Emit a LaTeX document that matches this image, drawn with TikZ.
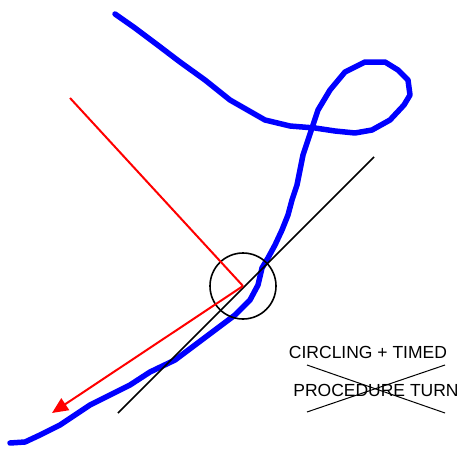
\documentclass[tikz,border=0pt]{standalone}
\usepackage{fontspec}
\setmainfont{Liberation Sans}
\usetikzlibrary{arrows.meta}
\begin{document}
\begin{tikzpicture}[x=1pt,y=-1pt,
  track/.style={draw=blue,line width=5.5pt,line join=round,line cap=round},
  redline/.style={draw=red,line width=2pt},
  blackline/.style={draw=black,line width=1.6pt},
  lbl/.style={font=\fontsize{17.5}{20}\selectfont,inner sep=0pt}]
\useasboundingbox (0,0) rectangle (464,450);
\draw[track] (115,14) -- (135,28) -- (155,43) -- (180,62) -- (205,80) -- (230,100) -- (265,120) -- (290,126) -- (315,128) -- (335,131) -- (355,133) -- (372,130) -- (390,120) -- (404,105) -- (410,95) -- (408,80) -- (398,70) -- (385,62) -- (365,62) -- (345,72) -- (330,90) -- (318,110) -- (313,125) -- (308,140) -- (303,155) -- (300,170) -- (297,185) -- (292,200) -- (288,215) -- (282,230) -- (275,245) -- (268,258) -- (262,268) -- (258,285) -- (250,300) -- (235,315) -- (215,330) -- (195,345) -- (175,360) -- (150,372) -- (130,385) -- (110,395) -- (90,405) -- (75,415) -- (60,425) -- (40,435) -- (25,442) -- (10,443);
\coordinate (blA) at (118,413);
\coordinate (blB) at (374,157);
\draw[blackline] (blA) -- (blB);
\coordinate (c) at (243,286);
\node[draw,circle,line width=1.6pt,minimum size=66pt,inner sep=0pt] (circ) at (c) {};
\coordinate (rs) at (70,98);
\coordinate (re) at (52,413);
\draw[redline] (rs) -- (c);
\draw[redline,-{Triangle[length=16pt,width=14pt]}] (c) -- (re);
\node[lbl] (t1) at (368,352) {CIRCLING + TIMED};
\node[lbl] (t2) at (376,390) {PROCEDURE TURN};
\coordinate (x1) at (307,365);
\coordinate (x2) at (445,413);
\coordinate (x3) at (307,412);
\coordinate (x4) at (445,365);
\draw[line width=1pt] (x1) -- (x2);
\draw[line width=1pt] (x3) -- (x4);
\end{tikzpicture}
\end{document}
